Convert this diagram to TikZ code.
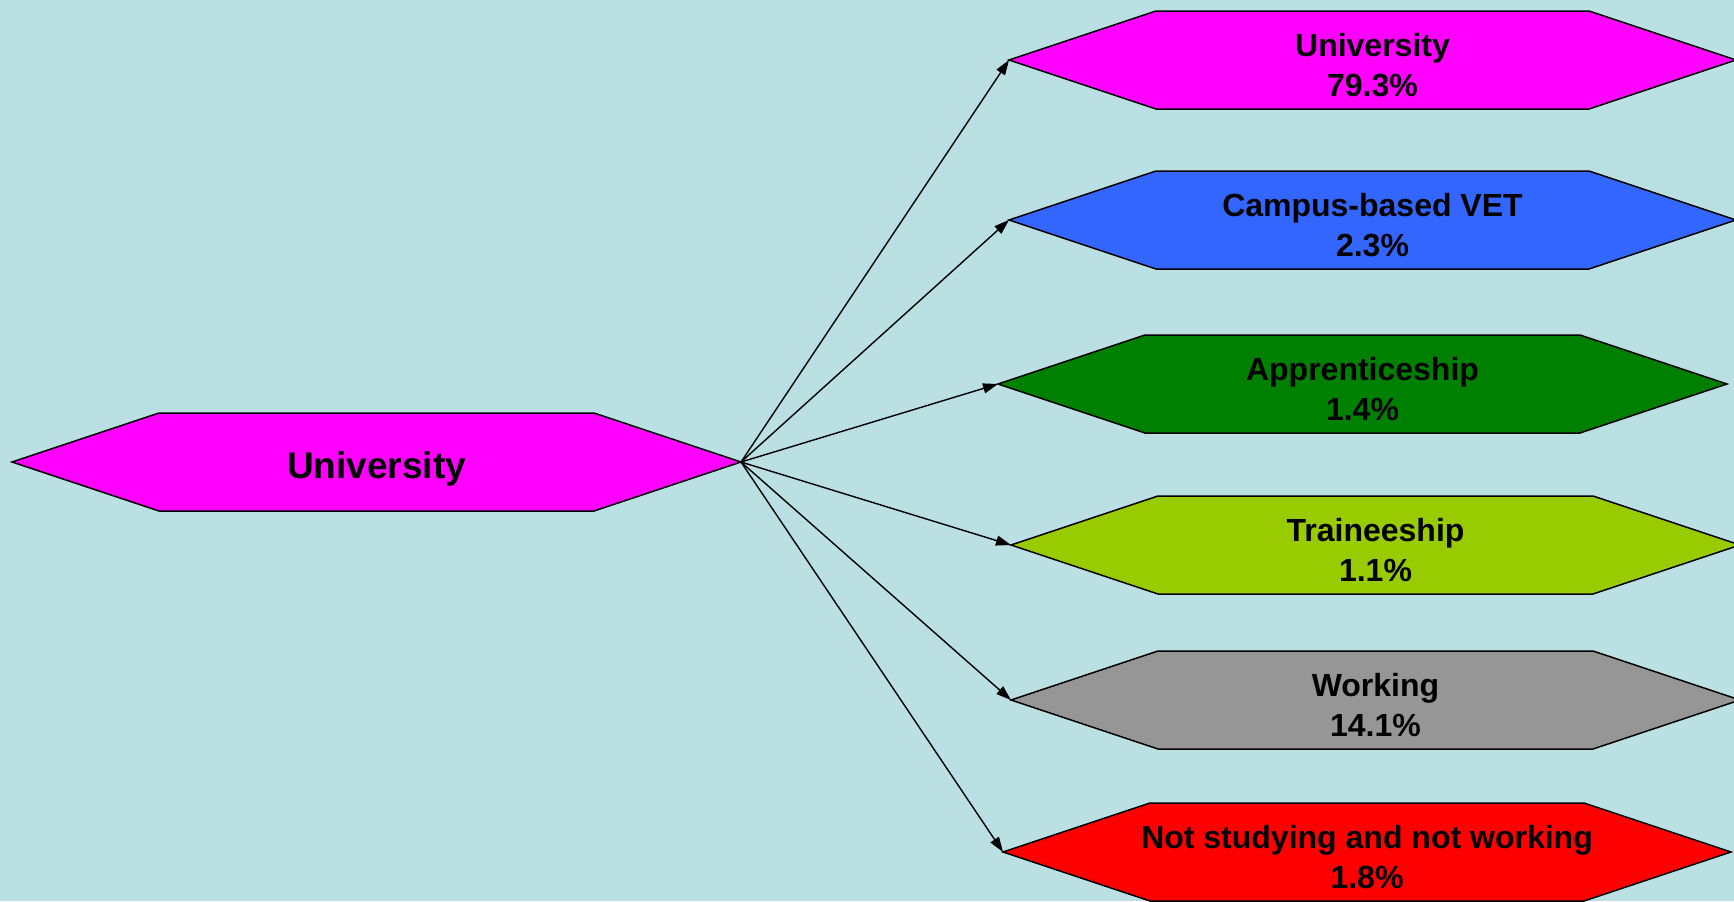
\documentclass[tikz,border=0pt]{standalone}
\usepackage{fontspec}
\setmainfont{Liberation Sans}
\usetikzlibrary{arrows.meta}

\definecolor{slidebg}{RGB}{187,224,227}
\definecolor{unimagenta}{RGB}{255,0,255}
\definecolor{uniblue}{RGB}{51,102,255}
\definecolor{appgreen}{RGB}{0,128,0}
\definecolor{trainlime}{RGB}{153,204,0}
\definecolor{workgray}{RGB}{150,150,150}
\definecolor{nswred}{RGB}{255,0,0}

\newcommand\hexhalfh{49}
\newcommand\hexslant{147}
\newcommand\hexstyle{[line width=0.75pt, line join=miter]}
\newcommand\hexbox[6]{
  \filldraw\hexstyle[fill=#5] (#2, #4) -- (#2 + \hexslant, #4 - \hexhalfh) -- (#3 - \hexslant, #4 - \hexhalfh)
    -- (#3, #4) -- (#3 - \hexslant, #4 + \hexhalfh) -- (#2 + \hexslant, #4 + \hexhalfh) -- cycle ;
  \coordinate (#1-w) at (#2, #4) ;
  \coordinate (#1-e) at (#3, #4) ;
  \node[hextext] (#1) at ({(#2 + #3) * 0.5}, #4 + 5) {#6} ;
}

\tikzset{
  hextext/.style={align=center, font=\bfseries\fontsize{16}{20}\selectfont, inner sep=0pt},
  bigtext/.style={hextext, font=\bfseries\fontsize{18.5}{22}\selectfont},
  outcome/.style={line width=0.7pt, -{Triangle[length=7.5pt, width=5pt]}},
}

\begin{document}
\begin{tikzpicture}[x=0.5pt, y=-0.5pt]
  \useasboundingbox (0, 0) rectangle (1734, 901) ;
  \fill[slidebg] (0, 0) rectangle (1734, 901) ;

  \filldraw\hexstyle[fill=unimagenta] (12, 462) -- (159, 413) -- (594, 413) -- (741, 462) -- (594, 511) -- (159, 511) -- cycle ;
  \coordinate (src-e) at (741, 462) ;
  \node[bigtext] (src) at (376.5, 469) {University} ;

  \hexbox{univ}{1009}{1736}{60}{unimagenta}{University\\79.3\%}
  \hexbox{campus}{1009}{1736}{220}{uniblue}{Campus-based VET\\2.3\%}
  \hexbox{appr}{998}{1727}{384}{appgreen}{Apprenticeship\\1.4\%}
  \hexbox{train}{1011}{1740}{545}{trainlime}{Traineeship\\1.1\%}
  \hexbox{work}{1011}{1740}{700}{workgray}{Working\\14.1\%}
  \hexbox{notsw}{1003}{1731}{852}{nswred}{Not studying and not working\\1.8\%}

  \foreach \dest in {univ, campus, appr, train, work, notsw}
    \draw[outcome] (src-e) -- (\dest-w) ;
\end{tikzpicture}
\end{document}
